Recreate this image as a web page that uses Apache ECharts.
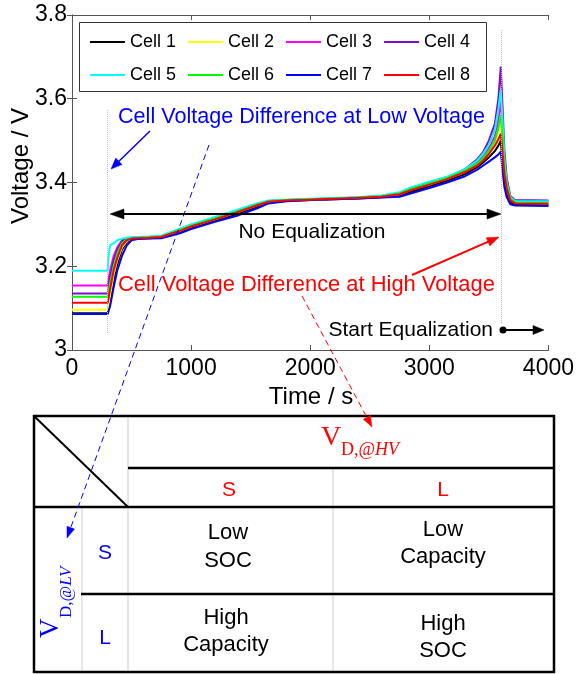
<!DOCTYPE html>
<html>
<head>
<meta charset="utf-8">
<script src="https://cdn.jsdelivr.net/npm/echarts@6/dist/echarts.min.js"></script>
<style>
html,body{margin:0;padding:0;background:#fff;}
#c{width:577px;height:674px;}
</style>
</head>
<body>
<div id="c"></div>
<script>
// ---------- DATA ----------
const cellNames = ['Cell 1','Cell 2','Cell 3','Cell 4','Cell 5','Cell 6','Cell 7','Cell 8'];
const cellColors = ['#000000','#ffff00','#ff00ff','#7f0ccc','#00ffff','#00ff00','#0000ff','#ff0000'];
const timeS = [0,300,305,320,350,380,420,460,500,550,650,750,900,1000,1200,1400,1550,1650,1800,2000,2200,2400,2600,2750,2850,3000,3150,3300,3400,3450,3500,3550,3580,3600,3615,3630,3650,3680,3720,4000];
const cell1 = [3.088,3.088,3.092,3.115,3.165,3.205,3.24,3.258,3.265,3.266,3.267,3.269,3.281,3.292,3.309,3.326,3.342,3.352,3.356,3.358,3.360,3.362,3.365,3.369,3.378,3.391,3.404,3.42,3.436,3.447,3.46,3.475,3.488,3.50,3.45,3.40,3.37,3.352,3.347,3.346];
const cell2 = [3.096,3.096,3.10,3.13,3.18,3.215,3.245,3.26,3.266,3.267,3.268,3.270,3.284,3.295,3.312,3.330,3.345,3.354,3.357,3.359,3.361,3.363,3.366,3.372,3.383,3.396,3.409,3.426,3.442,3.455,3.472,3.495,3.52,3.545,3.49,3.43,3.39,3.36,3.351,3.350];
const cell3 = [3.154,3.154,3.165,3.19,3.225,3.245,3.262,3.266,3.268,3.269,3.270,3.272,3.288,3.299,3.316,3.334,3.349,3.356,3.358,3.360,3.362,3.364,3.368,3.375,3.386,3.399,3.412,3.43,3.448,3.462,3.482,3.51,3.55,3.595,3.53,3.45,3.40,3.364,3.354,3.353];
const cell4 = [3.135,3.135,3.145,3.175,3.215,3.24,3.26,3.265,3.267,3.268,3.269,3.271,3.287,3.298,3.315,3.333,3.348,3.356,3.358,3.360,3.362,3.364,3.368,3.375,3.387,3.400,3.413,3.432,3.455,3.472,3.50,3.54,3.60,3.677,3.58,3.48,3.41,3.368,3.358,3.357];
const cell5 = [3.189,3.189,3.22,3.25,3.255,3.262,3.266,3.268,3.269,3.270,3.271,3.273,3.289,3.300,3.318,3.336,3.350,3.357,3.359,3.361,3.363,3.365,3.369,3.377,3.389,3.402,3.414,3.432,3.452,3.468,3.49,3.525,3.575,3.621,3.55,3.46,3.40,3.365,3.356,3.355];
const cell6 = [3.127,3.127,3.135,3.16,3.20,3.23,3.255,3.264,3.267,3.268,3.269,3.271,3.286,3.297,3.314,3.332,3.347,3.355,3.358,3.360,3.362,3.364,3.367,3.374,3.385,3.398,3.411,3.428,3.445,3.458,3.476,3.50,3.53,3.561,3.51,3.44,3.395,3.362,3.352,3.351];
const cell7 = [3.086,3.086,3.09,3.105,3.15,3.19,3.225,3.25,3.262,3.265,3.266,3.267,3.278,3.289,3.306,3.322,3.338,3.350,3.355,3.358,3.360,3.362,3.364,3.366,3.374,3.387,3.400,3.415,3.43,3.44,3.45,3.46,3.467,3.474,3.43,3.39,3.365,3.348,3.345,3.344];
const cell8 = [3.113,3.113,3.12,3.145,3.19,3.22,3.25,3.262,3.266,3.267,3.268,3.270,3.284,3.295,3.312,3.330,3.345,3.354,3.357,3.359,3.361,3.363,3.366,3.372,3.382,3.395,3.408,3.425,3.44,3.452,3.468,3.488,3.503,3.517,3.47,3.42,3.385,3.358,3.350,3.349];
const cellValues = [cell1,cell2,cell3,cell4,cell5,cell6,cell7,cell8];
const xTickLabels = ['0','1000','2000','3000','4000'];
const yTickLabels = ['3','3.2','3.4','3.6','3.8'];
const markerTimes = [300, 3600];

// ---------- CHART ----------
const SANS = 'Liberation Sans, Arial, Helvetica, sans-serif';
const SERIF = 'Liberation Serif, Times New Roman, serif';
const chart = echarts.init(document.getElementById('c'), null, {renderer:'canvas'});

const series = cellNames.map((n,i)=>({
  name:n, type:'line', symbol:'none', showSymbol:false, animation:false,
  lineStyle:{width:2, color:cellColors[i]}, itemStyle:{color:cellColors[i]},
  data: timeS.map((t,k)=>[t, cellValues[i][k]]),
  z: 2
}));
series.push({
  type:'line', data:[], silent:true, animation:false,
  markLine:{
    silent:true, symbol:['none','none'], label:{show:false}, animation:false,
    lineStyle:{color:'#bdbdbd', type:'dotted', width:1},
    data:[
      [{coord:[markerTimes[0],3.573]},{coord:[markerTimes[0],3.04]}],
      [{coord:[markerTimes[1],3.764]},{coord:[markerTimes[1],3.064]}]
    ]
  }
});

function arrow(x1,y1,x2,y2,color,o){
  o=o||{};
  const dx=x2-x1, dy=y2-y1, L=Math.hypot(dx,dy), ux=dx/L, uy=dy/L;
  const hl=o.hl||12, hw=o.hw||4.5;
  const bx=x2-ux*hl, by=y2-uy*hl;
  const els=[{
    type:'line', shape:{x1:x1,y1:y1,x2:bx+ux*1,y2:by+uy*1},
    style:{stroke:color, lineWidth:o.lw||1.5, lineDash:o.dash||null}, z:10
  },{
    type:'polygon', shape:{points:[[x2,y2],[bx-uy*hw,by+ux*hw],[bx+uy*hw,by-ux*hw]]},
    style:{fill:color, stroke:color, lineWidth:0.5}, z:10
  }];
  if(o.both){
    const cx=x1+ux*hl, cy=y1+uy*hl;
    els[0].shape.x1=cx-ux; els[0].shape.y1=cy-uy;
    els.push({type:'polygon', shape:{points:[[x1,y1],[cx-uy*hw,cy+ux*hw],[cx+uy*hw,cy-ux*hw]]},
      style:{fill:color, stroke:color, lineWidth:0.5}, z:10});
  }
  return els;
}
function txt(x,y,s,o){
  o=o||{};
  return {type:'text', x:x, y:y, z:11, style:{text:s, fill:o.color||'#000', font:(o.italic?'italic ':'')+(o.size||21)+'px '+(o.family||SANS),
    textAlign:o.align||'center', textVerticalAlign:o.va||'middle', lineHeight:o.lh}};
}
const tl = (x1,y1,x2,y2,c,w)=>({type:'line', shape:{x1,y1,x2,y2}, style:{stroke:c, lineWidth:w}, z:5});

const graphics = [
  // legend box
  {type:'rect', shape:{x:79.5,y:22.5,width:407,height:69}, style:{fill:'#fff', stroke:'#333', lineWidth:1}, z:3},
  // annotations
  txt(118,117,'Cell Voltage Difference at Low Voltage',{color:'#0000ff', align:'left', size:21.6}),
  ...arrow(150,131,111,169,'#0000ff',{lw:1.5, hl:11, hw:4.5}),
  ...arrow(209,145,67,538,'#0000ff',{lw:1, dash:[6,4], hl:11, hw:4}),
  ...arrow(110,214,501,214,'#000',{lw:2.2, hl:14, hw:5, both:true}),
  txt(312,232,'No Equalization'),
  txt(118,285,'Cell Voltage Difference at High Voltage',{color:'#ff0000', align:'left', size:21.9}),
  ...arrow(412,275,499,237,'#ff0000',{lw:2, hl:12, hw:4.5}),
  ...arrow(302,296,372,427,'#ff0000',{lw:1, dash:[6,4], hl:11, hw:4}),
  txt(493,330,'Start Equalization',{align:'right'}),
  {type:'circle', shape:{cx:503,cy:330,r:3.5}, style:{fill:'#000'}, z:10},
  ...arrow(503,330,544,330,'#000',{lw:2, hl:11, hw:4.5}),
  // table gray lines
  tl(128,416,128,672,'#cfcfcf',1),
  tl(333,468,333,672,'#cfcfcf',1),
  tl(82,507,82,672,'#cfcfcf',1),
  // table black lines
  {type:'rect', shape:{x:34,y:416,width:520,height:256}, style:{fill:null, stroke:'#000', lineWidth:2.5}, z:6},
  tl(128,468,554,468,'#000',2.5),
  tl(34,507,554,507,'#000',2.5),
  tl(81,594,554,594,'#000',2.5),
  tl(35,417,128,507,'#000',2),
  // table texts
  txt(331,438,'V',{color:'#ff0000', size:28, family:SERIF}),
  {type:'text', x:341, y:450, z:11, style:{text:'{a|D,@}{b|HV}', fill:'#ff0000', textAlign:'left', textVerticalAlign:'middle',
     rich:{a:{fontFamily:SERIF, fontSize:18, fill:'#ff0000', fontStyle:'normal'}, b:{fontFamily:SERIF, fontSize:18, fill:'#ff0000', fontStyle:'italic'}}}},
  txt(229,490,'S',{color:'#ff0000', size:21}),
  txt(443,490,'L',{color:'#ff0000', size:21}),
  txt(105,553,'S',{color:'#0000ff', size:21}),
  txt(105,638,'L',{color:'#0000ff', size:21}),
  {type:'group', x:51, y:638, rotation:Math.PI/2, z:11, children:[
     {type:'text', x:0, y:0, style:{text:'V', fill:'#0000ff', font:'27px '+SERIF, textAlign:'left', textVerticalAlign:'middle'}},
     {type:'text', x:20, y:16, style:{text:'{a|D,@}{b|LV}', fill:'#0000ff', textAlign:'left', textVerticalAlign:'middle',
        rich:{a:{fontFamily:SERIF, fontSize:17, fill:'#0000ff'}, b:{fontFamily:SERIF, fontSize:17, fill:'#0000ff', fontStyle:'italic'}}}}
  ]},
  txt(228,547,'Low\nSOC',{lh:28, size:22}),
  txt(443,543,'Low\nCapacity',{lh:27, size:22}),
  txt(226,631,'High\nCapacity',{lh:27, size:22}),
  txt(443,637,'High\nSOC',{lh:27, size:22}),
  // axis names
  txt(311,397,'Time / s',{size:24}),
  {type:'text', x:21, y:166, rotation:Math.PI/2, z:11, style:{text:'Voltage / V', fill:'#000', font:'24px '+SANS, textAlign:'center', textVerticalAlign:'middle'}}
];

const axisCommon = {
  axisLine:{show:true, lineStyle:{color:'#555', width:1}},
  axisTick:{show:true, inside:true, length:5, lineStyle:{color:'#555'}},
  splitLine:{show:false}
};
const legendCommon = {left:90, itemWidth:35, itemHeight:2, itemGap:12, icon:'rect', padding:0, z:5,
  textStyle:{fontSize:18, fontFamily:SANS, color:'#000'}, selectedMode:false};
const option = {
  animation:false,
  backgroundColor:'#fff',
  grid:{left:72, top:15, width:479, height:335, containLabel:false},
  legend:[
    Object.assign({data:cellNames.slice(0,4), top:33}, legendCommon),
    Object.assign({data:cellNames.slice(4,8), top:66}, legendCommon)
  ],
  xAxis:[
    Object.assign({type:'value', min:0, max:4000, interval:1000, position:'bottom',
      axisLabel:{fontSize:23, fontFamily:SANS, color:'#000', margin:7, formatter:(v)=>xTickLabels[Math.round(v/1000)]}}, axisCommon),
    Object.assign({type:'value', min:0, max:4000, interval:1000, position:'top', axisLabel:{show:false}}, axisCommon)
  ],
  yAxis:[
    Object.assign({type:'value', min:3, max:3.8, interval:0.2, position:'left',
      axisLabel:{fontSize:23, fontFamily:SANS, color:'#000', margin:5, formatter:(v)=>yTickLabels[Math.round((v-3)/0.2)]}}, axisCommon),
    Object.assign({type:'value', min:3, max:3.8, interval:0.2, position:'right', axisLabel:{show:false}}, axisCommon)
  ],
  series:series,
  graphic:graphics
};
chart.setOption(option);
</script>
</body>
</html>
